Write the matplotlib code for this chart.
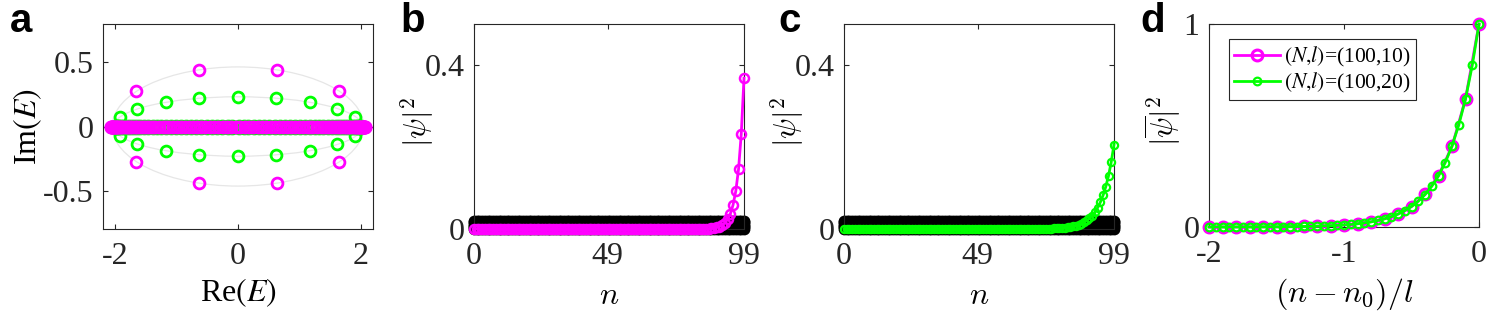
import matplotlib
matplotlib.use("Agg")
import matplotlib.pyplot as plt
from matplotlib.patches import Ellipse

plt.rcParams['font.family'] = ['Liberation Serif', 'DejaVu Serif']
plt.rcParams['mathtext.fontset'] = 'stix'

MAG = '#FF00FF'
GRN = '#00FF00'
AXC = '#262626'

# ---------------- panel a: complex spectrum ----------------
# complex eigenvalues, l = 10 (magenta)
mag_c_re = [-1.66, -0.64, 0.63, 1.65, -1.66, -0.64, 0.63, 1.65]
mag_c_im = [0.276, 0.442, 0.442, 0.276, -0.276, -0.442, -0.442, -0.276]
# complex eigenvalues, l = 20 (green)
grn_c_re = [-1.915, -1.64, -1.18, -0.63, 0.0, 0.62, 1.17, 1.62, 1.91,
            -1.915, -1.64, -1.18, -0.63, 0.0, 0.62, 1.17, 1.62, 1.91]
grn_c_im = [0.075, 0.137, 0.19, 0.222, 0.232, 0.222, 0.19, 0.137, 0.075,
            -0.075, -0.137, -0.19, -0.222, -0.232, -0.222, -0.19, -0.137, -0.075]
# real eigenvalues
mag_r_re = [2.07, 2.07, 2.06, 2.05, 2.04, 2.03, 2.01, 1.99, 1.97, 1.95, 1.92, 1.90,
            1.87, 1.83, 1.80, 1.76, 1.72, 1.68, 1.64, 1.60, 1.55, 1.50, 1.45, 1.40,
            1.35, 1.29, 1.23, 1.18, 1.12, 1.06, 0.99, 0.93, 0.87, 0.80, 0.73, 0.67,
            0.60, 0.53, 0.46, 0.39, 0.32, 0.25, 0.18, 0.11, 0.04,
            -0.04, -0.11, -0.18, -0.25, -0.32, -0.39, -0.46, -0.53, -0.60, -0.67,
            -0.73, -0.80, -0.87, -0.93, -0.99, -1.06, -1.12, -1.18, -1.23, -1.29,
            -1.35, -1.40, -1.45, -1.50, -1.55, -1.60, -1.64, -1.68, -1.72, -1.76,
            -1.80, -1.83, -1.87, -1.90, -1.92, -1.95, -1.97, -1.99, -2.01, -2.03,
            -2.04, -2.05, -2.06, -2.07, -2.07]
grn_r_re = [2.00, 1.99, 1.98, 1.96, 1.94, 1.91, 1.88, 1.84, 1.80, 1.75, 1.70, 1.65,
            1.59, 1.53, 1.46, 1.39, 1.32, 1.25, 1.17, 1.09, 1.01, 0.93, 0.85, 0.77,
            0.68, 0.60, 0.51, 0.43, 0.34, 0.26, 0.17, 0.09, 0.01,
            -0.09, -0.17, -0.26, -0.34, -0.43, -0.51, -0.60, -0.68, -0.77, -0.85,
            -0.93, -1.01, -1.09, -1.17, -1.25, -1.32, -1.39, -1.46, -1.53, -1.59,
            -1.65, -1.70, -1.75, -1.80, -1.84, -1.88, -1.91, -1.94, -1.96, -1.98,
            -1.99, -2.00]
# PBC ellipses (semi-axes)
ell_a = [2.05, 2.03]
ell_b = [0.465, 0.232]

# ---------------- panels b, c: |psi|^2 ----------------
N = 100
n_sites = list(range(N))
# tail of the skin mode for l = 10, n = 79 ... 99
mag_tail = [0.00004, 0.00006, 0.0001, 0.00015, 0.00024, 0.00038, 0.0006, 0.00095,
            0.0015, 0.0024, 0.0037, 0.0059, 0.0094, 0.0148, 0.0235, 0.037, 0.059,
            0.093, 0.146, 0.232, 0.368]
# tail of the skin mode for l = 20, n = 59 ... 99
grn_tail = [0.00002, 0.00003, 0.00003, 0.00004, 0.00005, 0.00007, 0.00008, 0.0001,
            0.00013, 0.00017, 0.00021, 0.00027, 0.00033, 0.00042, 0.00053, 0.00067,
            0.00084, 0.0011, 0.0013, 0.0017, 0.0021, 0.0026, 0.0033, 0.0042, 0.0052,
            0.0066, 0.0083, 0.0104, 0.0131, 0.0165, 0.0208, 0.0261, 0.0329, 0.0413,
            0.052, 0.0654, 0.0823, 0.1035, 0.130, 0.164, 0.206]
# extended (bulk) states: band of |psi|^2 levels between 0 and 2/(N+1)
black_levels = [0.0, 0.004, 0.008, 0.012, 0.016, 0.0195]

mag_psi = [0.0] * (N - len(mag_tail)) + mag_tail
grn_psi = [0.0] * (N - len(grn_tail)) + grn_tail

# ---------------- panel d: rescaled ----------------
mag_l = 10
grn_l = 20
mag_x = [(n - (N - 1)) / mag_l for n in range(N - len(mag_tail), N)]
grn_x = [(n - (N - 1)) / grn_l for n in range(N - len(grn_tail), N)]
mag_norm = [v / mag_tail[-1] for v in mag_tail]
grn_norm = [v / grn_tail[-1] for v in grn_tail]

# ---------------- figure ----------------
fig = plt.figure(figsize=(14.95, 3.19), dpi=100)
W, H = 1495.0, 319.0


def add_ax(x0, x1, ytop, ybot):
    return fig.add_axes([x0 / W, 1 - ybot / H, (x1 - x0) / W, (ybot - ytop) / H])


axa = add_ax(103, 373, 24, 229)
axb = add_ax(474, 744, 24, 229)
axc = add_ax(844, 1114, 24, 229)
axd = add_ax(1209, 1479, 24, 227)

TICK_FS = 23
LAB_FS = 23


def style(ax):
    for s in ax.spines.values():
        s.set_color(AXC)
        s.set_linewidth(0.8)
    ax.tick_params(direction='in', length=3.5, width=0.8, color=AXC,
                   top=True, right=True, labelsize=TICK_FS, labelcolor=AXC,
                   labelfontfamily='Liberation Serif')
    ax.tick_params(axis='x', pad=9)
    ax.tick_params(axis='y', pad=7)


# panel a
for a, b in zip(ell_a, ell_b):
    axa.add_patch(Ellipse((0, 0), 2 * a, 2 * b, fill=False, ec='#e6e6e6', lw=0.9, zorder=1))
ms_a = 7.8
axa.plot(grn_r_re, [0.0] * len(grn_r_re), 'o', mfc='none', mec=GRN, ms=9.3, mew=2.0,
         clip_on=False, zorder=3)
axa.plot(mag_r_re, [0.0] * len(mag_r_re), 'o', mfc='none', mec=MAG, ms=ms_a, mew=2.2,
         clip_on=False, zorder=4)
axa.plot(grn_c_re, grn_c_im, 'o', mfc='none', mec=GRN, ms=ms_a, mew=2.0, zorder=3)
axa.plot(mag_c_re, mag_c_im, 'o', mfc='none', mec=MAG, ms=ms_a, mew=2.0, zorder=3)
axa.set_xlim(-2.2, 2.2)
axa.set_ylim(-0.8, 0.8)
axa.set_xticks([-2, 0, 2])
axa.set_xticklabels(['-2', '0', '2'])
axa.set_yticks([-0.5, 0, 0.5])
axa.set_yticklabels(['-0.5', '0', '0.5'])
style(axa)
axa.set_xlabel(r'Re$(E)$', fontsize=LAB_FS)
axa.set_ylabel(r'Im$(E)$', fontsize=LAB_FS)
axa.xaxis.set_label_coords(0.5, -0.31)
axa.yaxis.set_label_coords(-0.28, 0.5)
axa.xaxis.label.set_va('center')
axa.yaxis.label.set_va('center')


def psi_panel(ax, psi, color, ms, mew):
    for lev in black_levels:
        ax.plot(n_sites, [lev] * N, 'o', color='black', ms=8.5, mew=0, clip_on=False, zorder=2)
    ax.plot(n_sites, psi, '-', color=color, lw=2.0, clip_on=False, zorder=3)
    ax.plot(n_sites, psi, 'o', mfc='none', mec=color, ms=ms, mew=mew, clip_on=False, zorder=4)
    ax.set_xlim(0, 99)
    ax.set_ylim(0, 0.5)
    ax.set_xticks([0, 49, 99])
    ax.set_xticklabels(['0', '49', '99'])
    ax.set_yticks([0, 0.4])
    ax.set_yticklabels(['0', '0.4'])
    style(ax)
    xl = ax.set_xlabel(r'$n$', fontsize=23)
    xl.set_math_fontfamily('cm')
    yl = ax.set_ylabel(r'$|\psi|^2$', fontsize=22)
    yl.set_math_fontfamily('cm')
    ax.xaxis.set_label_coords(0.5, -0.33)
    ax.yaxis.set_label_coords(-0.21, 0.52)
    ax.xaxis.label.set_va('center')
    ax.yaxis.label.set_va('center')


psi_panel(axb, mag_psi, MAG, 6.5, 1.8)
psi_panel(axc, grn_psi, GRN, 5.2, 1.6)

# panel d
axd.plot(mag_x, mag_norm, '-', color=MAG, lw=2.0, marker='o', mfc='none', mec=MAG,
         ms=7.8, mew=2.2, clip_on=False, zorder=3, label=r'$(N{,}l)$=(100,10)')
axd.plot(grn_x, grn_norm, '-', color=GRN, lw=2.0, marker='o', mfc='none', mec=GRN,
         ms=5.5, mew=1.6, clip_on=False, zorder=4, label=r'$(N{,}l)$=(100,20)')
axd.set_xlim(-2, 0)
axd.set_ylim(0, 1)
axd.set_xticks([-2, -1, 0])
axd.set_xticklabels(['-2', '-1', '0'])
axd.set_yticks([0, 1])
axd.set_yticklabels(['0', '1'])
style(axd)
xl = axd.set_xlabel(r'$(n-n_0)/l$', fontsize=23)
xl.set_math_fontfamily('cm')
yl = axd.set_ylabel(r'$|\overline{\psi}|^2$', fontsize=22)
yl.set_math_fontfamily('cm')
axd.xaxis.set_label_coords(0.5, -0.33)
axd.yaxis.set_label_coords(-0.17, 0.52)
axd.xaxis.label.set_va('center')
axd.yaxis.label.set_va('center')
leg = axd.legend(loc='upper left', bbox_to_anchor=(0.074, 0.925), fontsize=15.5,
                 frameon=True, fancybox=False, edgecolor=AXC, framealpha=1,
                 handlelength=2.1, handletextpad=0.2, borderpad=0.25, labelspacing=0.1,
                 borderaxespad=0)
leg.get_frame().set_linewidth(0.8)

# panel letters
for lbl, xp in zip(['a', 'b', 'c', 'd'], [10, 400, 778, 1140]):
    fig.text(xp / W, 1 - 32 / H, lbl, fontsize=29, fontweight='bold',
             family='Liberation Sans', va='baseline', ha='left')

fig.savefig('out.png', dpi=100)
